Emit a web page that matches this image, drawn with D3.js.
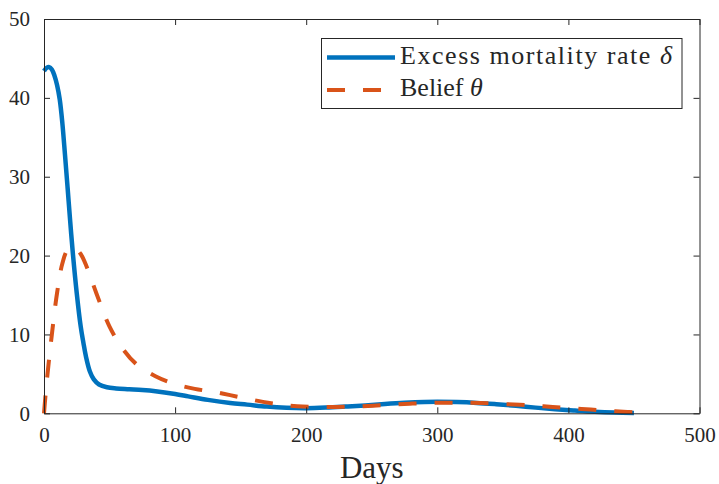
<!DOCTYPE html>
<html>
<head>
<meta charset="utf-8">
<script src="https://cdn.jsdelivr.net/npm/d3@7"></script>
<style>
  html, body { margin: 0; padding: 0; background: #fff; }
  svg { display: block; }
  svg text { font-family: "Liberation Serif", "Times New Roman", serif; fill: #262626; }
</style>
</head>
<body>
<svg id="chart" width="719" height="484"></svg>
<script>
// Excess mortality rate delta over time (days, percent)
const deltaDays = [0, 2, 4, 6, 8, 10, 12, 14, 16, 18, 20, 22, 25, 28, 30, 32, 35, 38, 42, 48, 55, 65, 75, 85, 100, 110, 125, 142, 155, 170, 185, 200, 215, 230, 245, 260, 275, 290, 300, 315, 330, 345, 360, 375, 390, 405, 420, 435, 450];
const deltaValues = [43.4, 43.8, 43.9, 43.6, 42.8, 41.6, 39.8, 36.8, 32.8, 28.6, 24.3, 20.3, 15.2, 11.0, 9.0, 7.2, 5.3, 4.3, 3.65, 3.3, 3.15, 3.05, 2.95, 2.8, 2.45, 2.15, 1.7, 1.3, 1.1, 0.85, 0.7, 0.65, 0.72, 0.85, 1.0, 1.18, 1.33, 1.43, 1.45, 1.42, 1.32, 1.15, 0.95, 0.72, 0.52, 0.35, 0.2, 0.1, 0.05];

// Belief theta over time
const thetaDays = [0, 1, 3, 6, 10, 14, 18, 23, 28, 33, 40, 50, 60, 70, 85, 100, 115, 130, 142, 155, 167, 180, 193, 208, 223, 237, 251, 265, 279, 293, 307, 320, 333, 348, 363, 376, 388, 403, 417, 432, 445, 450];
const thetaValues = [0, 2.0, 5.5, 10.0, 15.3, 19.0, 20.7, 21.0, 20.2, 18.4, 15.2, 11.0, 8.2, 6.3, 4.7, 3.7, 3.1, 2.7, 2.3, 1.85, 1.45, 1.12, 0.9, 0.8, 0.8, 0.85, 0.95, 1.1, 1.22, 1.31, 1.35, 1.34, 1.3, 1.2, 1.08, 0.95, 0.8, 0.62, 0.47, 0.3, 0.17, 0.12];

const xTicks = [0, 100, 200, 300, 400, 500];
const yTicks = [0, 10, 20, 30, 40, 50];
const seriesNames = ["Excess mortality rate ", "Belief "];
const seriesSymbols = ["δ", "θ"];
const xLabel = "Days";

const blue = "#0072BD", orange = "#D95319", axisColor = "#262626";
const serif = '"Liberation Serif", "Times New Roman", serif';
const plotLeft = 44, plotRight = 699.5, plotTop = 19, plotBottom = 413.3;

const svg = d3.select("#chart");
const x = d3.scaleLinear().domain([0, 500]).range([plotLeft, plotRight]);
const y = d3.scaleLinear().domain([0, 50]).range([plotBottom, plotTop]);

const deltaData = deltaDays.map((d, i) => [d, deltaValues[i]]);
const thetaData = thetaDays.map((d, i) => [d, thetaValues[i]]);

const line = d3.line().x(d => x(d[0])).y(d => y(d[1])).curve(d3.curveCatmullRom.alpha(0.5));

const plot = svg.append("g");
plot.append("path").datum(deltaData).attr("d", line)
  .attr("fill", "none").attr("stroke", blue).attr("stroke-width", 4.5);
plot.append("path").datum(thetaData).attr("d", line)
  .attr("fill", "none").attr("stroke", orange).attr("stroke-width", 4)
  .attr("stroke-dasharray", "18,18");

// Boxed axes with inward ticks
const tickLen = 6;
function styleAxis(g) {
  g.attr("font-family", serif);
  g.selectAll(".domain").attr("stroke", axisColor).attr("stroke-width", 1);
  g.selectAll(".tick line").attr("stroke", axisColor).attr("stroke-width", 1);
  g.selectAll("text").attr("font-size", 21).attr("fill", axisColor).attr("font-family", serif);
}
const xAxis = svg.append("g").attr("transform", `translate(0,${plotBottom})`)
  .call(d3.axisBottom(x).tickValues(xTicks).tickSizeInner(-tickLen).tickSizeOuter(0).tickPadding(14));
styleAxis(xAxis);

const xTop = svg.append("g").attr("transform", `translate(0,${plotTop})`)
  .call(d3.axisTop(x).tickValues(xTicks).tickSizeInner(-tickLen).tickSizeOuter(0).tickFormat(""));
styleAxis(xTop);

const yAxis = svg.append("g").attr("transform", `translate(${plotLeft},0)`)
  .call(d3.axisLeft(y).tickValues(yTicks).tickSizeInner(-tickLen).tickSizeOuter(0).tickPadding(14));
styleAxis(yAxis);

const yRight = svg.append("g").attr("transform", `translate(${plotRight},0)`)
  .call(d3.axisRight(y).tickValues(yTicks).tickSizeInner(-tickLen).tickSizeOuter(0).tickFormat(""));
styleAxis(yRight);

// Axis title
svg.append("text").attr("x", (plotLeft + plotRight) / 2).attr("y", 478)
  .attr("text-anchor", "middle").attr("font-size", 31).attr("font-family", serif).text(xLabel);

// Legend
const lg = svg.append("g").attr("font-family", serif);
lg.append("rect").attr("x", 321.5).attr("y", 38.5).attr("width", 360.5).attr("height", 70)
  .attr("fill", "#fff").attr("stroke", axisColor).attr("stroke-width", 1);
lg.append("line").attr("x1", 327).attr("x2", 395).attr("y1", 57.5).attr("y2", 57.5)
  .attr("stroke", blue).attr("stroke-width", 4.5);
lg.append("line").attr("x1", 327).attr("x2", 395).attr("y1", 90).attr("y2", 90)
  .attr("stroke", orange).attr("stroke-width", 4).attr("stroke-dasharray", "18,18");

const t1 = lg.append("text").attr("x", 400).attr("y", 63.5).attr("font-size", 26)
  .attr("textLength", 272).attr("lengthAdjust", "spacing");
t1.append("tspan").text(seriesNames[0]);
t1.append("tspan").attr("font-style", "italic").text(seriesSymbols[0]);

const t2 = lg.append("text").attr("x", 400).attr("y", 96).attr("font-size", 26);
t2.append("tspan").text(seriesNames[1]);
t2.append("tspan").attr("font-style", "italic").text(seriesSymbols[1]);
</script>
</body>
</html>
